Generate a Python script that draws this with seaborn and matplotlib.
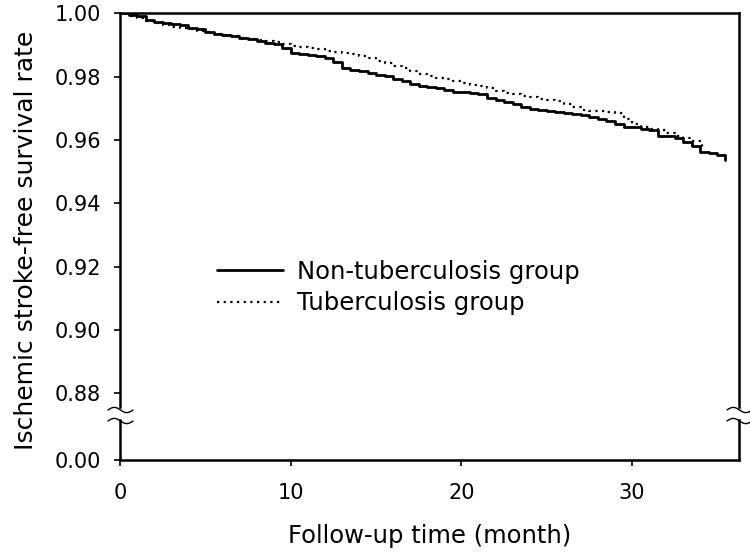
import numpy as np
import pandas as pd
import matplotlib
matplotlib.use("Agg")
import matplotlib.pyplot as plt
from matplotlib.lines import Line2D
import seaborn as sns

# ---------------- data ----------------
time_non = [0, 0.5, 1, 1.5, 2, 2.5, 3, 3.5, 4, 4.5, 5, 5.5, 6, 6.5, 7, 7.5, 8, 8.5, 9,
            9.5, 10, 10.5, 11, 11.5, 12, 12.5, 13, 13.5, 14, 14.5, 15, 15.5, 16, 16.5,
            17, 17.5, 18, 18.5, 19, 19.5, 20, 20.5, 21, 21.5, 22, 22.5, 23, 23.5, 24,
            24.5, 25, 25.5, 26, 26.5, 27, 27.5, 28, 28.5, 29, 29.5, 30, 30.5, 31, 31.5,
            32, 32.5, 33, 33.5, 34, 34.5, 35, 35.45]
surv_non = [1.000, 0.9995, 0.9990, 0.9980, 0.9972, 0.9970, 0.9967, 0.9962, 0.9955, 0.9950,
            0.9942, 0.9936, 0.9930, 0.9927, 0.9922, 0.9918, 0.9913, 0.9906, 0.9903, 0.9890,
            0.9876, 0.9873, 0.9869, 0.9866, 0.9860, 0.9845, 0.9828, 0.9822, 0.9818, 0.9812,
            0.9806, 0.9802, 0.9794, 0.9786, 0.9778, 0.9772, 0.9768, 0.9763, 0.9758, 0.9752,
            0.9750, 0.9747, 0.9745, 0.9731, 0.9727, 0.9719, 0.9713, 0.9705, 0.9698, 0.9694,
            0.9691, 0.9687, 0.9684, 0.9681, 0.9679, 0.9674, 0.9667, 0.9661, 0.9650, 0.9642,
            0.9640, 0.9636, 0.9631, 0.9614, 0.9612, 0.9607, 0.9595, 0.9580, 0.9562, 0.9560,
            0.9554, 0.9538]

time_tb = [0, 0.5, 1, 1.5, 2, 2.5, 3, 3.5, 4, 4.5, 5, 5.5, 6, 6.5, 7, 7.5, 8, 8.5, 9,
           9.5, 10, 10.5, 11, 11.5, 12, 12.5, 13, 13.5, 14, 14.5, 15, 15.5, 16, 16.5,
           17, 17.5, 18, 18.5, 19, 19.5, 20, 20.5, 21, 21.5, 22, 22.5, 23, 23.5, 24,
           24.5, 25, 25.5, 26, 26.5, 27, 27.5, 28, 28.5, 29, 29.5, 30, 30.5, 31, 31.5,
           32, 32.5, 33, 33.5, 34.1]
surv_tb = [1.000, 0.9993, 0.9985, 0.9976, 0.9968, 0.9962, 0.9958, 0.9954, 0.9949, 0.9944,
           0.9940, 0.9935, 0.9931, 0.9927, 0.9923, 0.9919, 0.9915, 0.9911, 0.9908, 0.9903,
           0.9898, 0.9893, 0.9889, 0.9886, 0.9882, 0.9879, 0.9876, 0.9870, 0.9864, 0.9858,
           0.9850, 0.9842, 0.9835, 0.9827, 0.9817, 0.9807, 0.9803, 0.9797, 0.9792, 0.9786,
           0.9780, 0.9775, 0.9770, 0.9765, 0.9756, 0.9749, 0.9745, 0.9740, 0.9735, 0.9730,
           0.9726, 0.9722, 0.9715, 0.9705, 0.9694, 0.9692, 0.9690, 0.9688, 0.9686, 0.9665,
           0.9650, 0.9642, 0.9635, 0.9630, 0.9622, 0.9614, 0.9605, 0.9596, 0.9578]

label_non = "Non-tuberculosis group"
label_tb = "Tuberculosis group"
y_ticks_top = [0.88, 0.90, 0.92, 0.94, 0.96, 0.98, 1.00]
y_ticks_bottom = [0.00]
x_ticks = [0, 10, 20, 30]

df_non = pd.DataFrame({"time": time_non, "surv": surv_non})
df_tb = pd.DataFrame({"time": time_tb, "surv": surv_tb})

# ---------------- style ----------------
sns.set_style("ticks")
plt.rcParams["font.family"] = ["DejaVu Sans"]
plt.rcParams["text.color"] = "black"
plt.rcParams["axes.labelcolor"] = "black"
plt.rcParams["xtick.color"] = "black"
plt.rcParams["ytick.color"] = "black"

W, H = 750, 557
fig = plt.figure(figsize=(W / 100, H / 100), dpi=100)

L, R = 120, 739
top_t, top_b = 13.3, 407
bot_t, bot_b = 420, 460

def fr(x0, y0, x1, y1):
    return [x0 / W, 1 - y1 / H, (x1 - x0) / W, (y1 - y0) / H]

ax = fig.add_axes(fr(L, top_t, R, top_b))
axb = fig.add_axes(fr(L, bot_t, R, bot_b), sharex=ax)

sns.lineplot(data=df_non, x="time", y="surv", ax=ax, color="black", lw=2.0,
             drawstyle="steps-post", label=label_non, estimator=None)
sns.lineplot(data=df_tb, x="time", y="surv", ax=ax, color="black", lw=1.6,
             linestyle=(0, (1, 2)), drawstyle="steps-post", label=label_tb,
             estimator=None)

xmax = (R - L) / 17.07
ax.set_xlim(0, xmax)
ax.set_ylim(1 - (top_b - top_t) / 3167, 1.0)
ax.set_yticks(y_ticks_top)
ax.set_yticklabels([f"{v:.2f}" for v in y_ticks_top])
axb.set_ylim(0, (bot_b - bot_t) / 3167)
axb.set_yticks(y_ticks_bottom)
axb.set_yticklabels([f"{v:.2f}" for v in y_ticks_bottom])
axb.set_xticks(x_ticks)
axb.set_xticklabels([str(v) for v in x_ticks])

for a in (ax, axb):
    for s in a.spines.values():
        s.set_linewidth(1.8)
        s.set_color("black")
    a.tick_params(axis="both", direction="out", length=4.5, width=1.2,
                  labelsize=15, colors="black", labelcolor="black")
    a.tick_params(axis="y", pad=9)
    a.set_facecolor("white")

ax.spines["bottom"].set_visible(False)
axb.spines["top"].set_visible(False)
ax.tick_params(axis="x", bottom=False, labelbottom=False)
axb.tick_params(axis="x", pad=12)

ax.set_xlabel("")
ax.set_ylabel("Ischemic stroke-free survival rate", fontsize=18, color="black")
ax.yaxis.set_label_coords(-0.133, 0.424)
axb.set_ylabel("")
axb.set_xlabel("Follow-up time (month)", fontsize=17.5, labelpad=15, color="black")

leg = ax.legend(loc="upper left", bbox_to_anchor=(217 / W, 1 - 260 / H),
                bbox_transform=fig.transFigure, frameon=False, fontsize=17.5,
                handlelength=2.7, handletextpad=0.6, labelspacing=0.3,
                borderpad=0, borderaxespad=0, labelcolor="black")

# axis-break marks
def wave(xc, yc):
    xs = np.linspace(xc - 12, xc + 13, 60)
    ys = yc - 2.6 * np.sin(2 * np.pi * (xs - (xc - 12)) / 25)
    fig.add_artist(Line2D(xs / W, 1 - ys / H, transform=fig.transFigure,
                          color="black", lw=1.0, clip_on=False))

for xc in (L, R):
    wave(xc, 410)
    wave(xc, 421)

fig.savefig("out.png", dpi=100, facecolor="white")
